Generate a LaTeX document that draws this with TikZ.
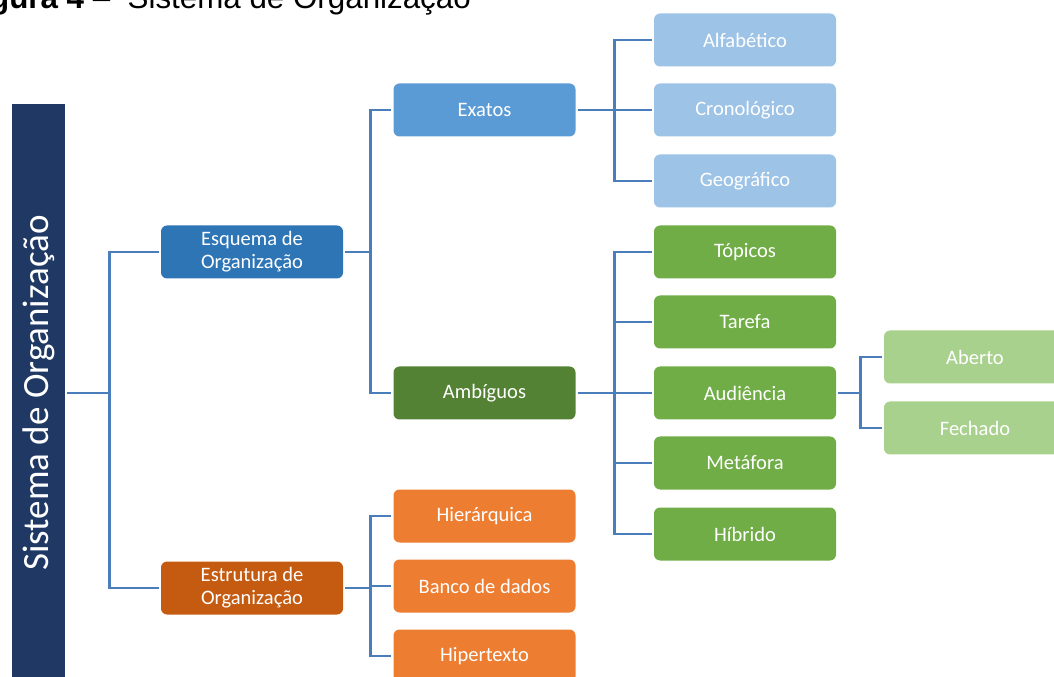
\documentclass[tikz,border=0pt]{standalone}
\usepackage{fontspec}
\setmainfont{Carlito}
\newfontfamily\arialfont{Liberation Sans}

\definecolor{rootnavy}{HTML}{1F3864}
\definecolor{esqblue}{HTML}{2E75B6}
\definecolor{estorange}{HTML}{C55A11}
\definecolor{exablue}{HTML}{5B9BD5}
\definecolor{ambgreen}{HTML}{548235}
\definecolor{lightblue}{HTML}{9DC3E6}
\definecolor{midgreen}{HTML}{70AD47}
\definecolor{lightgreen}{HTML}{A9D18E}
\definecolor{midorange}{HTML}{ED7D31}
\definecolor{connblue}{HTML}{4A7EBB}

\begin{document}
\begin{tikzpicture}[x=0.75pt, y=-0.75pt,
    box/.style={rectangle, rounded corners=4.5pt, minimum width=136.5pt, minimum height=39.75pt,
        inner sep=0pt, align=center, text=white, font=\fontsize{15.4}{17.3}\selectfont},
    conn/.style={draw=connblue, line width=2.2pt, shorten <=1.5pt, shorten >=1.5pt}]

    \useasboundingbox (0,0) rectangle (1054,677);
    \clip (0,0) rectangle (1054,677);

    % Caption
    \node[anchor=base west, inner sep=0pt, font=\arialfont\fontsize{23.5}{23.5}\selectfont] at (-38,8.5) (caption) {\textbf{Figura 4} – \ Sistema de Organização};

    % Root
    \node[fill=rootnavy, rotate=90, minimum width=433.5pt, minimum height=39.75pt, inner sep=0pt,
        text=white, font=\fontsize{27.75}{30}\selectfont] at (38.5,393) (root) {Sistema de Organização};

    % First level
    \node[box, fill=esqblue] at (252,252) (esquema) {Esquema de\\Organização};
    \node[box, fill=estorange] at (252,588) (estrutura) {Estrutura de\\Organização};

    % Second level
    \node[box, fill=exablue] at (484.5,110) (exatos) {Exatos};
    \node[box, fill=ambgreen] at (484.5,393) (ambiguos) {Ambíguos};
    \node[box, fill=midorange] at (484.5,516) (hier) {Hierárquica};
    \node[box, fill=midorange] at (484.5,586) (banco) {Banco de dados};
    \node[box, fill=midorange] at (484.5,656) (hiper) {Hipertexto};

    % Third level
    \node[box, fill=lightblue] at (745,40) (alfa) {Alfabético};
    \node[box, fill=lightblue] at (745,110) (crono) {Cronológico};
    \node[box, fill=lightblue] at (745,181) (geo) {Geográfico};
    \node[box, fill=midgreen] at (745,252) (topicos) {Tópicos};
    \node[box, fill=midgreen] at (745,322) (tarefa) {Tarefa};
    \node[box, fill=midgreen] at (745,393) (audiencia) {Audiência};
    \node[box, fill=midgreen] at (745,463) (metafora) {Metáfora};
    \node[box, fill=midgreen] at (745,534) (hibrido) {Híbrido};

    % Fourth level
    \node[box, fill=lightgreen] at (975,357) (aberto) {Aberto};
    \node[box, fill=lightgreen] at (975,428) (fechado) {Fechado};

    % Connectors
    \draw[conn] (root.south) -- +(44,0) |- (esquema.west);
    \draw[conn] (root.south) -- +(44,0) |- (estrutura.west);

    \draw[conn] (esquema.east) -- +(27,0) |- (exatos.west);
    \draw[conn] (esquema.east) -- +(27,0) |- (ambiguos.west);

    \draw[conn] (estrutura.east) -- +(27,0) |- (hier.west);
    \draw[conn] (estrutura.east) -- +(27,0) |- (banco.west);
    \draw[conn] (estrutura.east) -- +(27,0) |- (hiper.west);

    \draw[conn] (exatos.east) -- +(39,0) |- (alfa.west);
    \draw[conn] (exatos.east) -- +(39,0) |- (crono.west);
    \draw[conn] (exatos.east) -- +(39,0) |- (geo.west);

    \draw[conn] (ambiguos.east) -- +(39,0) |- (topicos.west);
    \draw[conn] (ambiguos.east) -- +(39,0) |- (tarefa.west);
    \draw[conn] (ambiguos.east) -- +(39,0) |- (audiencia.west);
    \draw[conn] (ambiguos.east) -- +(39,0) |- (metafora.west);
    \draw[conn] (ambiguos.east) -- +(39,0) |- (hibrido.west);

    \draw[conn] (audiencia.east) -- +(24,0) |- (aberto.west);
    \draw[conn] (audiencia.east) -- +(24,0) |- (fechado.west);
\end{tikzpicture}
\end{document}
